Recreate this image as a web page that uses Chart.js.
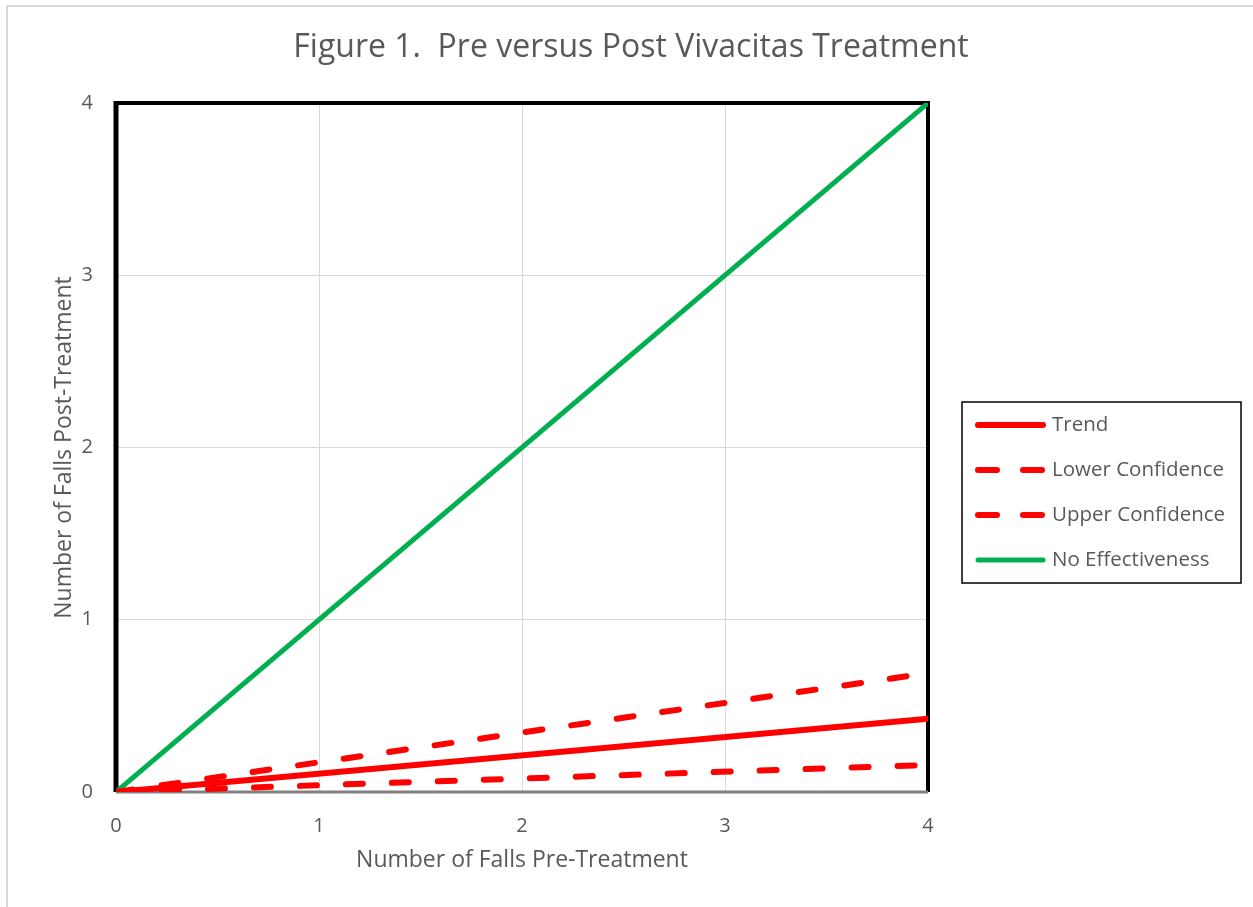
<!DOCTYPE html>
<html>
<head>
<meta charset="utf-8">
<script src="https://cdn.jsdelivr.net/npm/chart.js@4"></script>
<style>
  html, body { margin: 0; padding: 0; background: #fff; }
  #wrap { position: absolute; left: 0; top: 0; width: 1253px; height: 907px; }
  #frame { position: absolute; left: 6px; top: 5px; width: 1260px; height: 920px;
           border-left: 2px solid #d9d9d9; border-top: 2px solid #d9d9d9; }
  canvas { position: absolute; left: 0; top: 0; }
</style>
</head>
<body>
<div id="wrap">
  <div id="frame"></div>
  <canvas id="chart" width="1253" height="907"></canvas>
</div>
<script>
// x values: number of falls before treatment
const preTreatment = [0, 4];
// y values per series
const trend = [0, 0.425];
const lowerConfidence = [0, 0.157];
const upperConfidence = [0, 0.69];
const noEffectiveness = [0, 4];
const tickValues = [0, 1, 2, 3, 4];

const FONT = "'Open Sans', 'Noto Sans', sans-serif";
const TEXT = "#595959";

function pts(ys) {
  return preTreatment.map(function (x, i) { return { x: x, y: ys[i] }; });
}

// frame round the plot area: thick black left/top/right, gray bottom axis
const frame = {
  id: "frame",
  beforeDatasetsDraw: function (chart) {
    const a = chart.chartArea;
    const ctx = chart.ctx;
    ctx.save();
    ctx.strokeStyle = "#000";
    ctx.lineWidth = 4;
    ctx.beginPath();
    ctx.moveTo(a.left, a.top);
    ctx.lineTo(a.right, a.top);
    ctx.lineTo(a.right, a.bottom);
    ctx.stroke();
    ctx.lineWidth = 5;
    ctx.beginPath();
    ctx.moveTo(a.left, a.bottom);
    ctx.lineTo(a.left, a.top - 2);
    ctx.stroke();
    ctx.strokeStyle = "#808080";
    ctx.lineWidth = 3;
    ctx.beginPath();
    ctx.moveTo(a.left, a.bottom);
    ctx.lineTo(a.right, a.bottom);
    ctx.stroke();
    ctx.restore();
  }
};

// title and boxed legend drawn by hand
const extras = {
  id: "extras",
  afterDraw: function (chart) {
    const ctx = chart.ctx;
    ctx.save();
    ctx.fillStyle = TEXT;
    ctx.font = "32px " + FONT;
    ctx.textAlign = "center";
    ctx.textBaseline = "middle";
    ctx.fillText("Figure 1.  Pre versus Post Vivacitas Treatment", 631, 48);

    const bx = 962, by = 402, bw = 279, bh = 181;
    ctx.strokeStyle = "#000";
    ctx.lineWidth = 1.5;
    ctx.strokeRect(bx, by, bw, bh);
    ctx.font = "20.5px " + FONT;
    ctx.textAlign = "left";
    chart.data.datasets.forEach(function (ds, i) {
      const y = 425 + i * 45;
      ctx.strokeStyle = ds.borderColor;
      ctx.lineWidth = ds.borderWidth;
      ctx.lineCap = "round";
      ctx.setLineDash(ds.borderDash.length ? [19, 26] : []);
      ctx.beginPath();
      ctx.moveTo(978, y);
      ctx.lineTo(1043, y);
      ctx.stroke();
      ctx.setLineDash([]);
      ctx.fillStyle = TEXT;
      ctx.fillText(ds.label, 1052, y);
    });
    ctx.restore();
  }
};

new Chart(document.getElementById("chart"), {
  type: "scatter",
  data: {
    datasets: [
      { label: "Trend", data: pts(trend), borderColor: "#ff0000", borderWidth: 6, borderDash: [] },
      { label: "Lower Confidence", data: pts(lowerConfidence), borderColor: "#ff0000", borderWidth: 6, borderDash: [17, 29] },
      { label: "Upper Confidence", data: pts(upperConfidence), borderColor: "#ff0000", borderWidth: 6, borderDash: [17, 29] },
      { label: "No Effectiveness", data: pts(noEffectiveness), borderColor: "#00b050", borderWidth: 5, borderDash: [] }
    ].map(function (ds) {
      return Object.assign(ds, { showLine: true, pointRadius: 0, borderCapStyle: "round", fill: false });
    })
  },
  options: {
    responsive: false,
    animation: false,
    layout: { padding: { left: 47, top: 103, right: 325, bottom: 29 } },
    plugins: { legend: { display: false }, title: { display: false }, tooltip: { enabled: false } },
    scales: {
      x: {
        type: "linear", min: 0, max: 4,
        afterBuildTicks: function (s) { s.ticks = tickValues.map(function (v) { return { value: v }; }); },
        afterFit: function (s) { s.height = 86; },
        grid: { color: "#d9d9d9", lineWidth: 1, drawTicks: false },
        border: { display: false },
        ticks: { color: TEXT, font: { family: FONT, size: 20 }, padding: 22 },
        title: { display: true, text: "Number of Falls Pre-Treatment", color: TEXT,
                 font: { family: FONT, size: 23 }, padding: { top: 8 } }
      },
      y: {
        type: "linear", min: 0, max: 4,
        afterBuildTicks: function (s) { s.ticks = tickValues.map(function (v) { return { value: v }; }); },
        afterFit: function (s) { s.width = 69; },
        grid: { color: "#d9d9d9", lineWidth: 1, drawTicks: false },
        border: { display: false },
        ticks: { color: TEXT, font: { family: FONT, size: 20 }, padding: 23 },
        title: { display: true, text: "Number of Falls Post-Treatment", color: TEXT,
                 font: { family: FONT, size: 23 }, padding: { bottom: 4 } }
      }
    }
  },
  plugins: [frame, extras]
});
</script>
</body>
</html>
